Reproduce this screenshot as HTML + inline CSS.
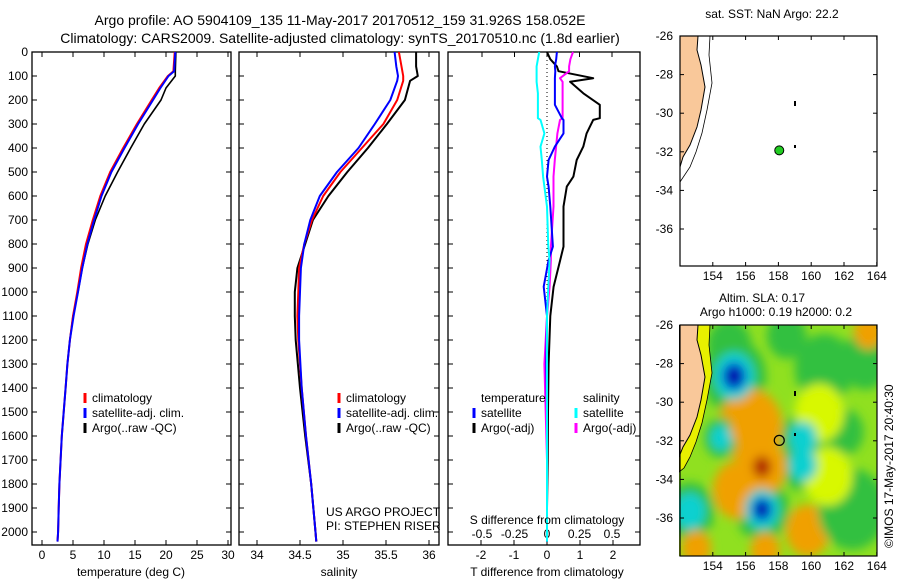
<!DOCTYPE html>
<html><head><meta charset="utf-8">
<style>
body{margin:0;background:#fff;}
svg{display:block;font-family:"Liberation Sans",sans-serif;}
</style></head>
<body>
<svg id="fig" width="900" height="580" viewBox="0 0 900 580" xmlns="http://www.w3.org/2000/svg">
<defs>
<filter id="blur" x="-50%" y="-50%" width="200%" height="200%"><feGaussianBlur stdDeviation="5"/></filter>
<clipPath id="mapclip"><rect x="679" y="325" width="198" height="231"/></clipPath>
</defs>
<text x="340" y="25" font-size="14" text-anchor="middle">Argo profile: AO 5904109_135 11-May-2017 20170512_159 31.926S 158.052E</text>
<text x="340" y="43" font-size="14" text-anchor="middle">Climatology: CARS2009. Satellite-adjusted climatology: synTS_20170510.nc (1.8d earlier)</text>
<g id="plots"></g>
</svg>
<script>
// ---------- data ----------
const depthT = [0,80,100,150,200,300,400,500,600,700,800,900,1000,1100,1200,1300,1400,1500,1600,1700,1800,1900,2000,2040];
const tempClim = [21.4,21.2,20.3,18.9,17.7,15.3,13.1,11.0,9.4,8.2,7.1,6.3,5.7,5.0,4.5,4.1,3.8,3.5,3.2,3.0,2.8,2.7,2.6,2.5];
const tempSat  = [21.5,21.3,20.4,19.1,17.9,15.5,13.3,11.2,9.6,8.4,7.3,6.5,5.8,5.1,4.5,4.1,3.8,3.5,3.2,3.0,2.8,2.7,2.6,2.5];
const tempArgo = [21.6,21.5,21.5,20.0,19.2,16.5,14.3,12.2,10.2,8.6,7.4,6.5,5.8,5.0,4.5,4.1,3.8,3.5,3.2,3.0,2.8,2.7,2.6,2.5];
const depthS = [0,60,100,120,200,300,400,500,600,700,800,900,1000,1100,1200,1400,1600,1800,2000,2040];
const salClim = [35.65,35.68,35.70,35.70,35.63,35.47,35.22,34.97,34.77,34.64,34.55,34.49,34.48,34.47,34.48,34.52,34.57,34.63,34.68,34.69];
const salSat  = [35.60,35.62,35.64,35.63,35.55,35.37,35.18,34.93,34.73,34.62,34.55,34.51,34.50,34.49,34.49,34.52,34.57,34.63,34.68,34.69];
const salArgo = [35.85,35.85,35.87,35.78,35.72,35.51,35.29,35.05,34.83,34.65,34.56,34.47,34.44,34.44,34.45,34.50,34.56,34.63,34.68,34.69];
const depthD = [0,30,60,80,109,124,172,220,276,283,339,394,450,519,561,644,811,867,978,1100,1300,1500,1700,1900,2040];
const tDiffArgo = [0,0.1,0.3,0.35,1.4,0.7,1.1,1.6,1.6,1.4,1.2,1.1,0.9,0.8,0.6,0.5,0.5,0.4,0.2,0.1,0.05,0.03,0.02,0.0,0.0];
const tDiffSat  = [0.3,0.28,0.24,0.25,0.24,0.24,0.24,0.24,0.45,0.5,0.5,0.24,0.05,0.0,0.05,0.1,0.18,0.05,-0.1,0.0,-0.02,0.0,0.0,0.0,0.0];
const sDiffArgo = [0.2,0.18,0.17,0.17,0.1,0.12,0.12,0.12,0.12,0.1,0.08,0.07,0.06,0.05,0.05,0.05,0.03,0.03,0.02,0.0,-0.02,-0.01,0.0,0.0,0.0];
const sDiffSat  = [-0.06,-0.07,-0.08,-0.08,-0.08,-0.08,-0.07,-0.07,-0.07,-0.05,-0.02,-0.05,-0.04,-0.03,-0.02,0.0,0.01,0.02,0.01,0.0,0.0,0.0,0.0,0.0,0.0];
const depthTicks = [0,100,200,300,400,500,600,700,800,900,1000,1100,1200,1300,1400,1500,1600,1700,1800,1900,2000];
const tempTicks = [0,5,10,15,20,25,30];
const salTicks = [34,34.5,35,35.5,36];
const tdTicks = [-2,-1,0,1,2];
const tdLabels = ["-2","-1","0","1","2"];
const sdTicks = [-0.5,-0.25,0,0.25,0.5];
const sdLabels = ["-0.5","-0.25","0","0.25","0.5"];
const argoLon = [158.052];
const argoLat = [-31.926];
const lonTicks = [154,156,158,160,162,164];
const latTicks = [-26,-28,-30,-32,-34,-36];
// SLA eddy features: lon, lat, value (m), radius (deg)
const slaLon = [155.3,157.0,159.5,159.5,157.0,156.3,152.6,154.5,155.0,160.8,163.3,163.5,159.8,157.2,162.5,162.0,160.5,153.0,158.5,155.5,161.0];
const slaLat = [-28.6,-35.5,-31.8,-33.2,-33.3,-31.2,-35.6,-31.8,-27.0,-28.2,-27.8,-26.3,-36.6,-37.6,-35.5,-31.5,-30.5,-37.5,-26.5,-34.5,-33.8];
const slaVal = [-0.45,-0.5,-0.3,-0.3,0.38,0.22,-0.3,-0.2,-0.1,-0.1,-0.1,0.2,0.18,0.2,-0.12,-0.12,0.08,0.2,-0.15,0.15,0.1];
const slaRad = [1.3,1.1,0.9,0.9,1.0,1.3,1.0,0.7,0.9,1.2,1.0,0.6,0.9,0.6,1.4,0.8,1.0,0.6,0.8,1.0,1.0];

const NS="http://www.w3.org/2000/svg";
const root=document.getElementById('plots');
function el(tag,attrs,parent,txt){const e=document.createElementNS(NS,tag);for(const k in attrs)e.setAttribute(k,attrs[k]);if(txt!==undefined)e.textContent=txt;(parent||root).appendChild(e);return e;}

const Y0=52,Y1=545;
const yD=d=>Y0+d*0.24;
const xT=v=>42+v*6.2;
const xS=v=>257+(v-34)*86;
const xTD=v=>547+v*33;
const xSD=v=>547+v*130;

function panel(x0,x1,name){
  const g=el('g',{});
  
  
  const r=el('rect',{x:x0,y:Y0,width:x1-x0,height:Y1-Y0,fill:'none',stroke:'#000','stroke-width':1.3},g);
  
  
  depthTicks.forEach(d=>{el('line',{x1:x0,x2:x0+5,y1:yD(d),y2:yD(d),stroke:'#000'},g);el('line',{x1:x1-5,x2:x1,y1:yD(d),y2:yD(d),stroke:'#000'},g);});
  return g;
}
function line(g,xs,ds,xf,color,w,name){
  const pts=xs.map((v,i)=>xf(v).toFixed(1)+','+yD(ds[i]).toFixed(1)).join(' ');
  const p=el('polyline',{points:pts,fill:'none',stroke:color,'stroke-width':w,'stroke-linejoin':'round'},g);
  
  
}
function legend(g,items,bx,ty){
  items.forEach((it,i)=>{
    const y=ty+i*15;
    el('line',{x1:bx,x2:bx,y1:y-9,y2:y+1,stroke:it[1],'stroke-width':3},g);
    const t=el('text',{x:bx+7,y:y,'font-size':12},g,it[0]);
    
    
  });
}
depthTicks.forEach(d=>{const t=el('text',{x:28,y:yD(d)+4,'font-size':12,'text-anchor':'end'},root,String(d));
  
  });

// Panel 1 temperature
const p1=panel(32,231,'temperature-panel');
tempTicks.forEach(v=>{el('line',{x1:xT(v),x2:xT(v),y1:Y1,y2:Y1-5,stroke:'#000'},p1);el('line',{x1:xT(v),x2:xT(v),y1:Y0,y2:Y0+5,stroke:'#000'},p1);
  el('text',{x:xT(v),y:559,'font-size':12,'text-anchor':'middle'},p1,String(v));});
line(p1,tempArgo,depthT,xT,'#000',1.6,'temp-argo-line');
line(p1,tempClim,depthT,xT,'#f00',2,'temp-clim-line');
line(p1,tempSat,depthT,xT,'#00f',2,'temp-sat-line');
legend(p1,[['climatology','#f00'],['satellite-adj. clim.','#00f'],['Argo(..raw -QC)','#000']],85,402);
el('text',{x:131,y:576,'font-size':12,'text-anchor':'middle'},p1,'temperature (deg C)');

// Panel 2 salinity
const p2=panel(239,439,'salinity-panel');
salTicks.forEach(v=>{el('line',{x1:xS(v),x2:xS(v),y1:Y1,y2:Y1-5,stroke:'#000'},p2);el('line',{x1:xS(v),x2:xS(v),y1:Y0,y2:Y0+5,stroke:'#000'},p2);
  el('text',{x:xS(v),y:559,'font-size':12,'text-anchor':'middle'},p2,String(v));});
line(p2,salArgo,depthS,xS,'#000',2,'sal-argo-line');
line(p2,salClim,depthS,xS,'#f00',2,'sal-clim-line');
line(p2,salSat,depthS,xS,'#00f',2,'sal-sat-line');
legend(p2,[['climatology','#f00'],['satellite-adj. clim.','#00f'],['Argo(..raw -QC)','#000']],339,402);
el('text',{x:339,y:576,'font-size':12,'text-anchor':'middle'},p2,'salinity');
el('text',{x:326,y:516,'font-size':12},p2,'US ARGO PROJECT');
el('text',{x:326,y:530,'font-size':12},p2,'PI: STEPHEN RISER');

// Panel 3 differences
const p3=panel(448,640,'difference-panel');
tdTicks.forEach((v,i)=>{el('line',{x1:xTD(v),x2:xTD(v),y1:Y1,y2:Y1-5,stroke:'#000'},p3);
  el('text',{x:xTD(v),y:559,'font-size':12,'text-anchor':'middle'},p3,tdLabels[i]);});
sdTicks.forEach((v,i)=>{el('line',{x1:xSD(v),x2:xSD(v),y1:Y0,y2:Y0+5,stroke:'#000'},p3);
  el('text',{x:xSD(v),y:538,'font-size':12,'text-anchor':'middle'},p3,sdLabels[i]);});
el('line',{x1:xTD(0),x2:xTD(0),y1:Y0,y2:Y1,stroke:'#000','stroke-dasharray':'1,3'},p3);
line(p3,tDiffArgo,depthD,xTD,'#000',2,'tdiff-argo-line');
line(p3,sDiffArgo,depthD,xSD,'#f0f',2,'sdiff-argo-line');
line(p3,tDiffSat,depthD,xTD,'#00f',2,'tdiff-sat-line');
line(p3,sDiffSat,depthD,xSD,'#0ff',2,'sdiff-sat-line');
el('text',{x:481,y:402,'font-size':12},p3,'temperature');
el('text',{x:583,y:402,'font-size':12},p3,'salinity');
legend(p3,[['satellite','#00f'],['Argo(-adj)','#000']],474,417);
legend(p3,[['satellite','#0ff'],['Argo(-adj)','#f0f']],576,417);
el('text',{x:547,y:524,'font-size':12,'text-anchor':'middle'},p3,'S difference from climatology');
el('text',{x:547,y:576,'font-size':12,'text-anchor':'middle'},p3,'T difference from climatology');

// ---------- Maps ----------
function mapAxes(g,top,pxLat,bottom){
  const lx=v=>680+(v-152)*16.4;
  const ly=v=>top+(-26-v)*pxLat;
  latTicks.forEach(v=>{el('line',{x1:680,x2:684,y1:ly(v),y2:ly(v),stroke:'#000'},g);el('line',{x1:873,x2:877,y1:ly(v),y2:ly(v),stroke:'#000'},g);
    el('text',{x:673,y:ly(v)+4,'font-size':12,'text-anchor':'end'},g,String(v));});
  lonTicks.forEach(v=>{el('line',{x1:lx(v),x2:lx(v),y1:bottom,y2:bottom-4,stroke:'#000'},g);el('line',{x1:lx(v),x2:lx(v),y1:top,y2:top+4,stroke:'#000'},g);
    el('text',{x:lx(v),y:bottom+14,'font-size':12,'text-anchor':'middle'},g,String(v));});
  el('rect',{x:680,y:top,width:197,height:bottom-top,fill:'none',stroke:'#000','stroke-width':1.2},g);
  return [lx,ly];
}
// SST map
const m1=el('g',{});


el('text',{x:772,y:18,'font-size':12,'text-anchor':'middle'},m1,'sat. SST: NaN Argo: 22.2');
el('polygon',{points:'680,36 698,36 697,50 701,65 705,87 701,110 697,127 690,145 683,157 680,167',fill:'#f9c89a',stroke:'#000','stroke-width':1},m1);
el('polyline',{points:'710,36 709,55 712,83 707,110 702,133 696,152 690,167 680,182',fill:'none',stroke:'#000','stroke-width':0.8},m1);
const [lx1,ly1]=mapAxes(m1,36,19.3,266);
el('rect',{x:794,y:101,width:2,height:5,fill:'#000'},m1);
el('rect',{x:794,y:145,width:2,height:3,fill:'#000'},m1);
argoLon.forEach((lo,i)=>{const c=el('circle',{cx:lx1(lo),cy:ly1(argoLat[i]),r:4.5,fill:'#22cc22',stroke:'#000'},m1);
  
  });

// SLA map
const m2=el('g',{});


el('text',{x:762,y:302,'font-size':12,'text-anchor':'middle'},m2,'Altim. SLA: 0.17');
el('text',{x:776,y:316,'font-size':12,'text-anchor':'middle'},m2,'Argo h1000: 0.19 h2000: 0.2');
const hm=el('g',{'clip-path':'url(#mapclip)'},m2);
el('rect',{x:679,y:325,width:198,height:231,fill:'#90e020'},hm);
function slaColor(v){
  if(v<=-0.42)return '#0028d0';
  if(v<=-0.32)return '#0090ff';
  if(v<=-0.22)return '#10d0d0';
  if(v<=-0.05)return '#30c040';
  if(v<0.12)return '#d8f800';
  if(v<0.25)return '#f0a000';
  return '#b02000';
}
const lx2=v=>680+(v-152)*16.4, ly2=v=>326+(-26-v)*19.3;
const blobs=el('g',{filter:'url(#blur)'},hm);
slaVal.forEach((v,i)=>{
  const halo=v<-0.2?-0.12:(v>0.25?0.18:v);
  const c=el('ellipse',{cx:lx2(slaLon[i]),cy:ly2(slaLat[i]),rx:slaRad[i]*16.4*1.5,ry:slaRad[i]*19.3*1.5,fill:slaColor(halo)},blobs);
  
  
});
slaVal.forEach((v,i)=>{
  if(Math.abs(v)<0.2)return;
  const mid=v<0?-0.25:0.2;
  el('ellipse',{cx:lx2(slaLon[i]),cy:ly2(slaLat[i]),rx:slaRad[i]*16.4*0.95,ry:slaRad[i]*19.3*0.95,fill:slaColor(mid)},blobs);
});
slaVal.forEach((v,i)=>{
  if(Math.abs(v)<0.3)return;
  const c=el('ellipse',{cx:lx2(slaLon[i]),cy:ly2(slaLat[i]),rx:slaRad[i]*16.4*0.55,ry:slaRad[i]*19.3*0.55,fill:slaColor(v)},blobs);
  
  
});
slaVal.forEach((v,i)=>{
  if(v>-0.42)return;
  el('ellipse',{cx:lx2(slaLon[i]),cy:ly2(slaLat[i]),rx:slaRad[i]*16.4*0.3,ry:slaRad[i]*19.3*0.3,fill:'#0018a0'},blobs);
});
el('polygon',{points:'679,325 710,325 709,345 712,373 707,400 702,423 696,442 690,457 684,468 679,472',fill:'#e8f000',stroke:'#000','stroke-width':0.8},hm);
el('polygon',{points:'679,325 698,325 697,340 701,355 705,377 701,400 697,417 690,435 683,447 679,457',fill:'#f9c89a',stroke:'#000','stroke-width':1},hm);
mapAxes(m2,325,19.3,556);
el('rect',{x:794,y:391,width:2,height:5,fill:'#000'},m2);
el('rect',{x:794,y:433,width:2,height:3,fill:'#000'},m2);
argoLon.forEach((lo,i)=>{const c=el('circle',{cx:lx2(lo),cy:ly2(argoLat[i]),r:5,fill:'none',stroke:'#000','stroke-width':1.2},m2);
  
  });
const cr=el('text',{x:0,y:0,'font-size':12,transform:'translate(893,548) rotate(-90)'},root,'©IMOS 17-May-2017 20:40:30');


</script>
</body></html>
